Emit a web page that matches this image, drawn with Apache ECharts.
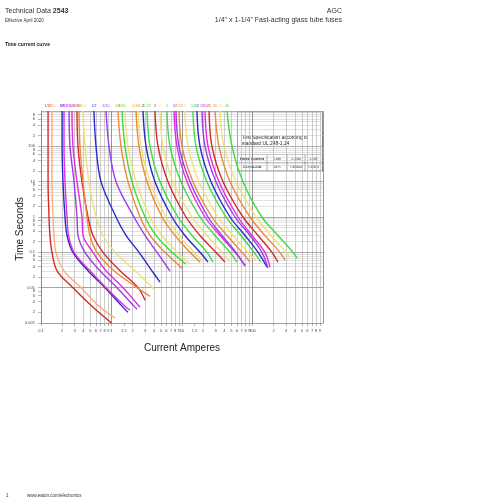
<!DOCTYPE html>
<html><head><meta charset="utf-8">
<script src="https://cdn.jsdelivr.net/npm/echarts@6/dist/echarts.min.js"></script>
<style>html,body{margin:0;padding:0;background:#fff}#c{width:480px;height:500px}</style>
</head><body><div id="c"></div>
<script>
// ---- tick labels ----
const xTickValues = [0.1,0.2,0.3,0.4,0.5,0.6,0.7,0.8,0.9,1,1.5,2,3,4,5,6,7,8,9,10,15,20,30,40,50,60,70,80,90,100,200,300,400,500,600,700,800,900,1000];
const xTickLabels = ['0.1','2','3','4','5','6','7','8','9','1','1.5','2','3','4','5','6','7','8','9','10','1.5','2','3','4','5','6','7','8','9','100','2','3','4','5','6','7','8','9','1000'];
const yTickValues = [0.001,0.002,0.004,0.006,0.008,0.01,0.02,0.04,0.06,0.08,0.1,0.2,0.4,0.6,0.8,1,2,4,6,8,10,20,40,60,80,100,200,400,600,800,1000];
const yTickLabels = ['0.001','2','4','6','8','0.01','2','4','6','8','0.1','2','4','6','8','1','2','4','6','8','10','2','4','6','8','100','2','4','6','8','1000'];
const xMajor = [0.1,1,10,100,1000];
const xMinor = [0.2,0.3,0.4,0.5,0.6,0.7,0.8,0.9,2,3,4,5,6,7,8,9,20,30,40,50,60,70,80,90,200,300,400,500,600,700,800,900];
const yMajor = [0.001,0.01,0.1,1,10,100,1000];
const yMinor = [0.002,0.003,0.004,0.005,0.006,0.007,0.008,0.009,0.02,0.03,0.04,0.05,0.06,0.07,0.08,0.09,0.2,0.3,0.4,0.5,0.6,0.7,0.8,0.9,2,3,4,5,6,7,8,9,20,30,40,50,60,70,80,90,200,300,400,500,600,700,800,900];

// ---- fuse ratings (curve labels) ----
const ratings = ['1/16','1/10','1/8','3/16','2/10','1/4','3/10','3/8','4/10','1/2','6/10','3/4','8/10','1','1-1/4','1-1/2','2','2-1/2','3','4','5','6','7','7-1/2','8','10','12','15','20','25','30','35','40'];
const curveColors = ['#d42a2a','#f2b27a','#2a2ac8','#e030e0','#9a3ee8','#e030e0','#d42a2a','#ee8a3a','#efe27a','#2a2ac8','#9a3ee8','#ee8a3a','#3fdc3f','#efe27a','#ee8a3a','#efe27a','#2a2ac8','#3fdc3f','#d42a2a','#efe27a','#3fdc3f','#e030e0','#9a3ee8','#ee8a3a','#efe27a','#3fdc3f','#2a2ac8','#9a3ee8','#e030e0','#d42a2a','#ee8a3a','#efe27a','#3fdc3f'];

// ---- curve values: amperes / seconds ----
const a01=[0.126,0.126,0.126,0.130,0.134,0.143,0.169,0.284,0.529,1.0];      const s01=[1000,100,10,1,0.3,0.1,0.03,0.01,0.003,0.001];
const a02=[0.143,0.143,0.143,0.148,0.153,0.163,0.212,0.369,0.665,1.122];    const s02=[1000,100,10,1,0.3,0.1,0.03,0.01,0.003,0.00137];
const a03=[0.199,0.199,0.205,0.219,0.234,0.284,0.464,0.81,1.41,1.71];       const s03=[1000,100,10,1,0.3,0.1,0.03,0.01,0.003,0.002];
const a04=[0.212,0.212,0.219,0.234,0.246,0.294,0.495,0.836,1.554,1.83];     const s04=[1000,100,10,1,0.3,0.1,0.03,0.01,0.003,0.0023];
const a05=[0.250,0.258,0.294,0.324,0.335,0.421,0.687,1.197,2.085,2.30];     const s05=[1000,100,10,1,0.3,0.1,0.03,0.01,0.003,0.00246];
const a06=[0.275,0.284,0.324,0.381,0.394,0.546,0.836,1.46,2.537];           const s06=[1000,100,10,1,0.3,0.1,0.03,0.01,0.0028];
const a07=[0.324,0.335,0.381,0.464,0.546,0.758,1.320,2.377,2.99];           const s07=[1000,100,10,1,0.3,0.1,0.03,0.01,0.0044];
const a08=[0.346,0.357,0.394,0.449,0.495,0.623,1.085,2.30,3.52];            const s08=[1000,100,10,1,0.3,0.1,0.03,0.01,0.0057];
const a09=[0.394,0.421,0.479,0.603,0.758,1.122,2.155,4.14];                 const s09=[1000,100,10,1,0.3,0.1,0.03,0.0085];
const a10=[0.564,0.603,0.710,1.159,1.606,2.456,3.75,4.87];                  const s10=[1000,100,10,1,0.3,0.1,0.03,0.0143];
const a11=[0.836,0.922,1.159,2.085,2.99,4.42,6.76];                         const s11=[1000,100,10,1,0.3,0.1,0.0293];
const a12=[1.236,1.364,1.714,2.537,3.52,5.74,10.0];                         const s12=[1000,100,10,1,0.3,0.1,0.0357];
const a13=[1.409,1.554,1.954,2.99,4.28,7.21,11.4];                          const s13=[1000,100,10,1,0.3,0.1,0.0463];
const a14=[1.554,1.714,2.227,3.52,5.20,8.49,13.0];                          const s14=[1000,100,10,1,0.3,0.1,0.0463];
const a15=[2.227,2.456,3.19,5.20,7.96,13.0,18.0];                           const s15=[1000,100,10,1,0.3,0.1,0.0528];
const a16=[2.377,2.621,3.52,5.93,9.06,14.8,19.9];                           const s16=[1000,100,10,1,0.3,0.1,0.0528];
const a17=[2.80,3.09,4.14,7.21,11.0,18.0,23.4];                             const s17=[1000,100,10,1,0.3,0.1,0.0528];
const a18=[3.19,3.52,4.87,8.77,13.9,22.6,27.5];                             const s18=[1000,100,10,1,0.3,0.1,0.0528];
const a19=[4.14,4.57,6.33,11.4,18.0,30.3,40.7];                             const s19=[1000,100,10,1,0.3,0.1,0.0528];
const a20=[4.87,5.37,7.45,13.9,22.6,36.9,48.0];                             const s20=[1000,100,10,1,0.3,0.1,0.0528];
const a21=[6.12,6.76,9.68,18.0,29.4,48.0,60.3];                             const s21=[1000,100,10,1,0.3,0.1,0.0528];
const a22=[7.70,8.49,11.8,21.2,34.6,56.5,78.3];                             const s22=[1000,100,10,1,0.3,0.1,0.0434];
const a23=[8.22,9.06,13.0,23.4,36.9,58.3,78.3];                             const s23=[1000,100,10,1,0.3,0.1,0.0407];
const a24=[9.06,10.0,14.3,26.6,43.5,71.0,92.2];                             const s24=[1000,100,10,1,0.3,0.1,0.0528];
const a25=[11.0,12.2,17.4,32.4,52.9,86.3,112];                              const s25=[1000,100,10,1,0.3,0.1,0.0564];
const a26=[14.3,15.8,22.6,42.1,68.7,105,132];                               const s26=[1000,100,10,1,0.3,0.1,0.0528];
const a27=[16.3,18.0,25.8,48.0,78.3,120,161];                               const s27=[1000,100,10,1,0.3,0.1,0.0381];
const a28=[19.2,21.2,30.3,56.5,92.2,136,166];                               const s28=[1000,100,10,1,0.3,0.1,0.0357];
const a29=[21.2,23.4,33.5,62.2,98.4,150,177];                               const s29=[1000,100,10,1,0.3,0.1,0.0381];
const a30=[24.2,26.6,38.2,73.3,120,189,230];                                const s30=[1000,100,10,1,0.3,0.1,0.0528];
const a31=[29.4,33.5,48.0,92.2,150,245,289];                                const s31=[1000,100,10,1,0.3,0.1,0.060];
const a32=[34.6,39.4,58.3,112,183,299,340];                                 const s32=[1000,100,10,1,0.3,0.1,0.0685];
const a33=[43.5,51.2,73.3,136,230,375,428];                                 const s33=[1000,100,10,1,0.3,0.1,0.0685];

const ampsList=[a01,a02,a03,a04,a05,a06,a07,a08,a09,a10,a11,a12,a13,a14,a15,a16,a17,a18,a19,a20,a21,a22,a23,a24,a25,a26,a27,a28,a29,a30,a31,a32,a33];
const secsList=[s01,s02,s03,s04,s05,s06,s07,s08,s09,s10,s11,s12,s13,s14,s15,s16,s17,s18,s19,s20,s21,s22,s23,s24,s25,s26,s27,s28,s29,s30,s31,s32,s33];

const FONT = '"Liberation Sans", Arial, sans-serif';
const chart = echarts.init(document.getElementById('c'), null, {renderer:'canvas'});

function lbl(values, labels){ const m = {}; values.forEach((v,i)=>{ m[v.toPrecision(6)] = labels[i]; }); return v => { const k = Number(v).toPrecision(6); return m[k] !== undefined ? m[k] : ''; }; }

const gridLineSeries = {
  type:'line', data:[], silent:true, xAxisIndex:0, yAxisIndex:0, z:0,
  markLine:{ silent:true, z:0, symbol:['none','none'], label:{show:false}, animation:false,
    data: [
      ...yMinor.map(v=>({yAxis:v, lineStyle:{color:'#d4d4d4', width:0.7, type:'solid'}})),
      ...xMinor.map(v=>({xAxis:v, lineStyle:{color:'#b8b8b8', width:0.7, type:'solid'}})),
      ...yMajor.map(v=>({yAxis:v, lineStyle:{color:'#9a9a9a', width:0.8, type:'solid'}})),
      ...xMajor.map(v=>({xAxis:v, lineStyle:{color:'#7c7c7c', width:0.8, type:'solid'}}))
    ]}
};

const curveSeries = ampsList.map((a,i)=>({
  type:'line', name:ratings[i], smooth:0.35, showSymbol:false, symbol:'none', animation:false, z:10,
  lineStyle:{color:curveColors[i], width:1.4}, itemStyle:{color:curveColors[i]},
  data: a.map((v,j)=>[v, secsList[i][j]]),
  markPoint:{ symbol:'circle', symbolSize:0, silent:true, animation:false, z:11,
    label:{show:true, formatter:ratings[i], color:curveColors[i], fontSize:3.5, fontFamily:FONT, position:'top', distance:3},
    data:[{coord:[a[0], secsList[i][0]]}] }
}));

const option = {
  backgroundColor:'#fff',
  animation:false,
  textStyle:{fontFamily:FONT},
  title:[
    {text:'Technical Data {b|2543}', left:0, top:3, textStyle:{fontSize:7, fontWeight:'normal', color:'#333', fontFamily:FONT, rich:{b:{fontSize:7, fontWeight:'bold', color:'#333', fontFamily:FONT}}}},
    {text:'Effective April 2020', left:0, top:13, textStyle:{fontSize:4.5, fontWeight:'normal', color:'#333', fontFamily:FONT}},
    {text:'AGC', right:133, top:3, textStyle:{fontSize:7, fontWeight:'normal', color:'#333', fontFamily:FONT}},
    {text:'1/4" x 1-1/4" Fast-acting glass tube fuses', right:133, top:12, textStyle:{fontSize:7, fontWeight:'normal', color:'#333', fontFamily:FONT}},
    {text:'Time current curve', left:0, top:37, textStyle:{fontSize:5, fontWeight:'bold', color:'#222', fontFamily:FONT}},
    {text:'1', left:1, top:488, textStyle:{fontSize:4.5, fontWeight:'normal', color:'#333', fontFamily:FONT}},
    {text:'www.eaton.com/electronics', left:22, top:488, textStyle:{fontSize:4.5, fontWeight:'normal', color:'#333', fontFamily:FONT}}
  ],
  grid:{left:41, right:157, top:111, bottom:177, containLabel:false},
  xAxis:{type:'log', logBase:10, min:0.1, max:1000,
    name:'Current Amperes', nameLocation:'middle', nameGap:20, nameTextStyle:{fontSize:10, color:'#222', fontFamily:FONT},
    axisLine:{show:true, lineStyle:{color:'#888', width:0.8}},
    axisTick:{show:true, inside:false, length:3, lineStyle:{color:'#888', width:0.6}, customValues:xTickValues},
    axisLabel:{show:true, fontSize:4, color:'#444', margin:6, customValues:xTickValues, formatter:lbl(xTickValues,xTickLabels), hideOverlap:false},
    splitLine:{show:false}, minorSplitLine:{show:false}},
  yAxis:{type:'log', logBase:10, min:0.001, max:1000,
    axisLine:{show:true, lineStyle:{color:'#888', width:0.8}},
    axisTick:{show:true, inside:false, length:3, lineStyle:{color:'#888', width:0.6}, customValues:yTickValues},
    axisLabel:{show:true, fontSize:4, color:'#444', margin:6, customValues:yTickValues, formatter:lbl(yTickValues,yTickLabels), hideOverlap:false},
    splitLine:{show:false}, minorSplitLine:{show:false}},
  graphic:[
    {type:'text', x:20, y:229, rotation:Math.PI/2, style:{text:'Time Seconds', fontSize:10, fill:'#222', font:'10px '+FONT, align:'center', verticalAlign:'middle'}, z:10},
    {type:'group', z:20, children:[
      {type:'rect', shape:{x:237.5, y:112, width:85, height:59}, style:{fill:'#fff', stroke:'#444', lineWidth:0.7}},
      {type:'text', x:242, y:135, style:{text:'Test Specification according to\nstandard UL 248-1,14', font:'4.9px '+FONT, fill:'#222', lineHeight:5.6}},
      {type:'line', shape:{x1:237.5, y1:154.5, x2:322.5, y2:154.5}, style:{stroke:'#555', lineWidth:0.5}},
      {type:'line', shape:{x1:237.5, y1:162.8, x2:322.5, y2:162.8}, style:{stroke:'#555', lineWidth:0.5}},
      {type:'line', shape:{x1:267, y1:154.5, x2:267, y2:171}, style:{stroke:'#555', lineWidth:0.5}},
      {type:'line', shape:{x1:287, y1:154.5, x2:287, y2:171}, style:{stroke:'#555', lineWidth:0.5}},
      {type:'line', shape:{x1:305, y1:154.5, x2:305, y2:171}, style:{stroke:'#555', lineWidth:0.5}},
      {type:'text', x:252, y:158.6, style:{text:'Rated Current', font:'bold 3.6px '+FONT, fill:'#222', align:'center', verticalAlign:'middle'}},
      {type:'text', x:277, y:158.6, style:{text:'1.0In', font:'3.6px '+FONT, fill:'#222', align:'center', verticalAlign:'middle'}},
      {type:'text', x:296, y:158.6, style:{text:'1.35In', font:'3.6px '+FONT, fill:'#222', align:'center', verticalAlign:'middle'}},
      {type:'text', x:313.5, y:158.6, style:{text:'2.0In', font:'3.6px '+FONT, fill:'#222', align:'center', verticalAlign:'middle'}},
      {type:'text', x:252, y:166.9, style:{text:'100mA-40A', font:'3.6px '+FONT, fill:'#222', align:'center', verticalAlign:'middle'}},
      {type:'text', x:277, y:166.9, style:{text:'>4 h', font:'3.6px '+FONT, fill:'#222', align:'center', verticalAlign:'middle'}},
      {type:'text', x:296, y:166.9, style:{text:'<3600s', font:'3.6px '+FONT, fill:'#222', align:'center', verticalAlign:'middle'}},
      {type:'text', x:313.5, y:166.9, style:{text:'<120 s', font:'3.6px '+FONT, fill:'#222', align:'center', verticalAlign:'middle'}}
    ]}
  ],
  series:[gridLineSeries, ...curveSeries]
};
chart.setOption(option);
</script></body></html>
